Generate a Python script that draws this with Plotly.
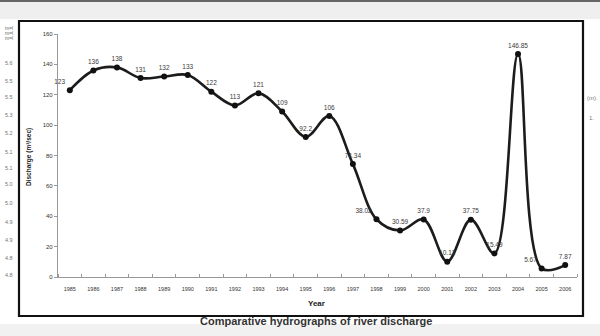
import plotly.graph_objects as go

years = list(range(1985, 2007))
discharge = [123, 136, 138, 131, 132, 133, 122, 113, 121, 109, 92.2, 106,
             74.34, 38.02, 30.59, 37.9, 10.12, 37.75, 15.49, 146.85, 5.67, 7.87]
labels = ["123", "136", "138", "131", "132", "133", "122", "113", "121", "109", "92.2", "106",
          "74.34", "38.02", "30.59", "37.9", "10.12", "37.75", "15.49", "146.85", "5.67", "7.87"]
side_numbers = ["5.6", "5.5", "5.5", "5.3", "5.2", "5.1", "5.1", "5.0", "5.0", "4.9", "4.9", "4.8", "4.8"]
y_ticks = list(range(0, 161, 20))

# plot-area pixel geometry (600x336 page)
L, R, T, B = 58, 577, 34, 277
W, H = R - L, B - T


def px(x):
    return (x - L) / W


def py(y):
    return (B - y) / H


positions = ["top left"] + ["top center"] * 12 + ["top left"] + ["top center"] * 5 + ["top center", "top left", "top center"]

fig = go.Figure()
fig.add_trace(go.Scatter(
    x=years, y=discharge, mode="lines+markers+text",
    text=labels, textposition=positions,
    textfont=dict(family="Liberation Sans", size=6.5, color="#3a3a3a"),
    line=dict(color="#1c1c1c", width=2.6, shape="spline", smoothing=1.0),
    marker=dict(color="#111", size=6),
    cliponaxis=False, showlegend=False,
))

fig.update_layout(
    width=600, height=336,
    margin=dict(l=L, r=600 - R, t=T, b=336 - B),
    paper_bgcolor="white", plot_bgcolor="white",
    xaxis=dict(range=[1984.5, 2006.5], tickvals=years, ticktext=[str(y) for y in years],
               ticks="", showgrid=False, zeroline=False, showline=True,
               linecolor="#999", linewidth=1.2, ticklabelstandoff=6,
               tickfont=dict(family="Liberation Sans", size=5.5, color="#333"),
               minor=dict(tickvals=[y - 0.5 for y in years] + [2006.5], ticks="inside",
                          ticklen=3, tickcolor="#999", showgrid=False)),
    yaxis=dict(range=[0, 160], tickvals=y_ticks, ticks="outside", ticklen=3, tickcolor="#999",
               showgrid=False, zeroline=False, showline=True, linecolor="#999", linewidth=1.2,
               tickfont=dict(family="Liberation Sans", size=6, color="#333")),
)

shapes = [
    # top grey band of the page
    dict(type="rect", xref="paper", yref="paper", x0=px(0), x1=px(600), y0=py(19), y1=py(0),
         fillcolor="#efefef", line=dict(width=0), layer="below"),
    dict(type="line", xref="paper", yref="paper", x0=px(0), x1=px(600), y0=py(1), y1=py(1),
         line=dict(color="#666", width=2)),
    # bottom grey band
    dict(type="rect", xref="paper", yref="paper", x0=px(0), x1=px(600), y0=py(336), y1=py(324),
         fillcolor="#f1f1f1", line=dict(width=0), layer="below"),
    # black frame around the chart
    dict(type="rect", xref="paper", yref="paper", x0=px(19), x1=px(583), y0=py(316), y1=py(21),
         line=dict(color="#111", width=2.2), fillcolor="rgba(0,0,0,0)"),
]
fig.update_layout(shapes=shapes)

ann = [
    dict(text="<b>Discharge (m³/sec)</b>", x=px(29), y=py(157), textangle=-90,
         font=dict(family="Liberation Sans", size=6.5, color="#222")),
    dict(text="<b>Year</b>", x=px(316), y=py(303),
         font=dict(family="Liberation Sans", size=8, color="#222")),
    dict(text="<b>Comparative hydrographs of river discharge</b>", x=px(316), y=py(321),
         font=dict(family="Liberation Sans", size=11, color="#333")),
    dict(text="(m).", x=px(592), y=py(98), font=dict(family="Liberation Sans", size=6, color="#777")),
    dict(text="1.", x=px(591), y=py(118), font=dict(family="Liberation Sans", size=6, color="#777")),
]
for i, yy in enumerate([28, 33, 38]):
    ann.append(dict(text="m=l", x=px(9), y=py(yy), font=dict(family="Liberation Sans", size=5, color="#666")))
side_y = [63, 81, 97, 115, 133, 152, 168, 184, 203, 222, 240, 258, 275]
for s, yy in zip(side_numbers, side_y):
    ann.append(dict(text=s, x=px(9), y=py(yy), font=dict(family="Liberation Sans", size=5.5, color="#777")))
for a in ann:
    a.update(xref="paper", yref="paper", showarrow=False, xanchor="center", yanchor="middle")
fig.update_layout(annotations=ann)

fig.write_html("out.html")
